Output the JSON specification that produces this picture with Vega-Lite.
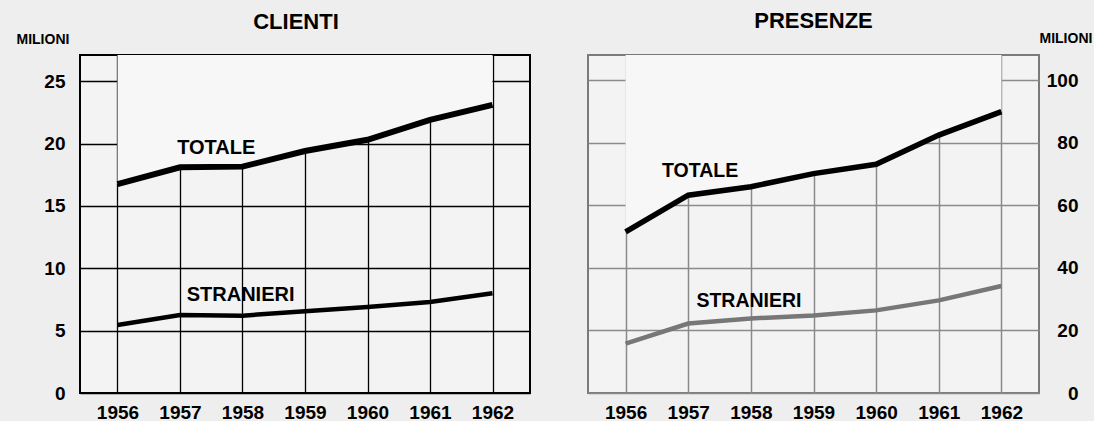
{
  "$schema": "https://vega.github.io/schema/vega-lite/v6.json",
  "background": "#eeeeee",
  "padding": {"left": 15, "top": 9, "right": 5, "bottom": 2},
  "spacing": 56,
  "config": {
    "font": "Liberation Sans",
    "axis": {
      "labelFont": "Liberation Sans",
      "labelFontWeight": "bold",
      "labelFontSize": 19,
      "labelColor": "black",
      "ticks": false,
      "tickSize": 0,
      "domain": false,
      "gridOpacity": 1,
      "titleFont": "Liberation Sans",
      "titleFontWeight": "bold",
      "titleFontSize": 14,
      "titleColor": "black"
    },
    "title": {"font": "Liberation Sans", "fontSize": 22, "fontWeight": "bold", "color": "black"}
  },
  "datasets": {
    "clienti": [
      {"anno": 1956, "serie": "TOTALE", "milioni": 16.75},
      {"anno": 1957, "serie": "TOTALE", "milioni": 18.1},
      {"anno": 1958, "serie": "TOTALE", "milioni": 18.15},
      {"anno": 1959, "serie": "TOTALE", "milioni": 19.4},
      {"anno": 1960, "serie": "TOTALE", "milioni": 20.3},
      {"anno": 1961, "serie": "TOTALE", "milioni": 21.9},
      {"anno": 1962, "serie": "TOTALE", "milioni": 23.1},
      {"anno": 1956, "serie": "STRANIERI", "milioni": 5.45},
      {"anno": 1957, "serie": "STRANIERI", "milioni": 6.25},
      {"anno": 1958, "serie": "STRANIERI", "milioni": 6.2},
      {"anno": 1959, "serie": "STRANIERI", "milioni": 6.55},
      {"anno": 1960, "serie": "STRANIERI", "milioni": 6.9},
      {"anno": 1961, "serie": "STRANIERI", "milioni": 7.3},
      {"anno": 1962, "serie": "STRANIERI", "milioni": 8.0}
    ],
    "presenze": [
      {"anno": 1956, "serie": "TOTALE", "milioni": 51.5},
      {"anno": 1957, "serie": "TOTALE", "milioni": 63.2},
      {"anno": 1958, "serie": "TOTALE", "milioni": 65.9},
      {"anno": 1959, "serie": "TOTALE", "milioni": 70.1},
      {"anno": 1960, "serie": "TOTALE", "milioni": 73.1},
      {"anno": 1961, "serie": "TOTALE", "milioni": 82.4},
      {"anno": 1962, "serie": "TOTALE", "milioni": 89.9},
      {"anno": 1956, "serie": "STRANIERI", "milioni": 15.8},
      {"anno": 1957, "serie": "STRANIERI", "milioni": 22.2},
      {"anno": 1958, "serie": "STRANIERI", "milioni": 23.8},
      {"anno": 1959, "serie": "STRANIERI", "milioni": 24.8},
      {"anno": 1960, "serie": "STRANIERI", "milioni": 26.4},
      {"anno": 1961, "serie": "STRANIERI", "milioni": 29.6},
      {"anno": 1962, "serie": "STRANIERI", "milioni": 34.2}
    ],
    "etichette_clienti": [
      {"anno": 1957.58, "milioni": 19.65, "serie": "TOTALE"},
      {"anno": 1957.97, "milioni": 7.85, "serie": "STRANIERI"}
    ],
    "etichette_presenze": [
      {"anno": 1957.19, "milioni": 70.9, "serie": "TOTALE"},
      {"anno": 1957.97, "milioni": 29.3, "serie": "STRANIERI"}
    ]
  },
  "hconcat": [
    {
      "width": 450,
      "height": 338,
      "view": {"stroke": "black", "strokeWidth": 2, "fill": "#f3f3f3"},
      "title": {"text": "CLIENTI", "frame": "group", "anchor": "middle", "dx": -9, "offset": -2},
      "encoding": {
        "x": {
          "field": "anno", "type": "quantitative",
          "scale": {"domain": [1955.4, 1962.6], "nice": false, "zero": false},
          "axis": {"values": [1956, 1957, 1958, 1959, 1960, 1961, 1962], "format": "d", "grid": true, "gridColor": "black", "gridWidth": 1.3, "labelPadding": 10, "title": null}
        },
        "y": {
          "field": "milioni", "type": "quantitative",
          "scale": {"domain": [0, 27.1], "nice": false},
          "axis": {"values": [0, 5, 10, 15, 20, 25], "grid": true, "gridColor": "black", "gridWidth": 1.3, "labelPadding": 15, "labelBaseline": "middle",
                   "title": "MILIONI", "titleAngle": 0, "titleX": -64, "titleY": -16, "titleAlign": "left", "titleBaseline": "middle"}
        }
      },
      "layer": [
        {
          "data": {"name": "clienti"},
          "transform": [{"filter": "datum.serie === 'TOTALE'"}],
          "mark": {"type": "area", "fill": "#f7f7f7", "opacity": 1},
          "encoding": {"y2": {"datum": 27.1}}
        },
        {
          "data": {"name": "clienti"},
          "transform": [{"filter": "datum.serie === 'TOTALE'"}],
          "mark": {"type": "line", "color": "black", "strokeWidth": 6, "strokeJoin": "miter"},
          "encoding": {}
        },
        {
          "data": {"name": "clienti"},
          "transform": [{"filter": "datum.serie === 'STRANIERI'"}],
          "mark": {"type": "line", "color": "black", "strokeWidth": 4.5},
          "encoding": {}
        },
        {
          "data": {"name": "etichette_clienti"},
          "mark": {"type": "text", "font": "Liberation Sans", "fontSize": 20, "fontWeight": "bold", "color": "black", "baseline": "middle"},
          "encoding": {"text": {"field": "serie"}}
        }
      ]
    },
    {
      "width": 451,
      "height": 338,
      "view": {"stroke": "#7a7a7a", "strokeWidth": 2, "fill": "#f3f3f3"},
      "title": {"text": "PRESENZE", "frame": "group", "anchor": "middle", "offset": -2},
      "encoding": {
        "x": {
          "field": "anno", "type": "quantitative",
          "scale": {"domain": [1955.4, 1962.6], "nice": false, "zero": false},
          "axis": {"values": [1956, 1957, 1958, 1959, 1960, 1961, 1962], "format": "d", "grid": true, "gridColor": "#8a8a8a", "gridWidth": 1.5, "labelPadding": 10, "title": null}
        },
        "y": {
          "field": "milioni", "type": "quantitative",
          "scale": {"domain": [0, 108], "nice": false},
          "axis": {"orient": "right", "values": [0, 20, 40, 60, 80, 100], "grid": true, "gridColor": "#8a8a8a", "gridWidth": 1.5, "labelPadding": 39, "labelAlign": "right", "labelBaseline": "middle",
                   "title": "MILIONI", "titleAngle": 0, "titleX": 0, "titleY": -17, "titleAlign": "left", "titleBaseline": "middle"}
        }
      },
      "layer": [
        {
          "data": {"name": "presenze"},
          "transform": [{"filter": "datum.serie === 'TOTALE'"}],
          "mark": {"type": "area", "fill": "#f7f7f7", "opacity": 1},
          "encoding": {"y2": {"datum": 108}}
        },
        {
          "data": {"name": "presenze"},
          "transform": [{"filter": "datum.serie === 'TOTALE'"}],
          "mark": {"type": "line", "color": "black", "strokeWidth": 5.5},
          "encoding": {}
        },
        {
          "data": {"name": "presenze"},
          "transform": [{"filter": "datum.serie === 'STRANIERI'"}],
          "mark": {"type": "line", "color": "#777777", "strokeWidth": 4.5},
          "encoding": {}
        },
        {
          "data": {"name": "etichette_presenze"},
          "mark": {"type": "text", "font": "Liberation Sans", "fontSize": 19.5, "fontWeight": "bold", "color": "black", "baseline": "middle"},
          "encoding": {"text": {"field": "serie"}}
        }
      ]
    }
  ]
}
